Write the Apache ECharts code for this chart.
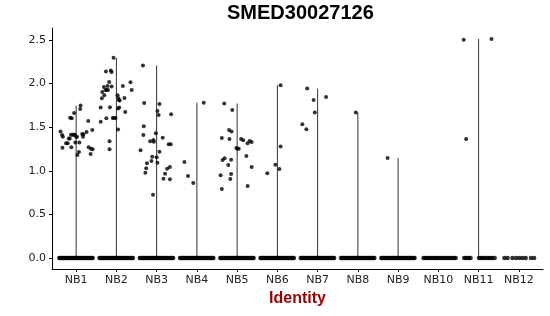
<!DOCTYPE html>
<html>
<head>
<meta charset="utf-8">
<script src="https://cdn.jsdelivr.net/npm/echarts@6/dist/echarts.min.js"></script>
<style>html,body{margin:0;padding:0;background:#fff}#c{width:550px;height:316px}</style>
</head>
<body>
<div id="c"></div>
<script>
const categories = ['NB1','NB2','NB3','NB4','NB5','NB6','NB7','NB8','NB9','NB10','NB11','NB12'];
const yTicks = [0, 0.5, 1.0, 1.5, 2.0, 2.5];

// non-zero expression points per identity: [jitter offset, value]
const nb1 = [[-0.39,1.449],[-0.35,1.411],[-0.33,1.391],[-0.34,1.265],[-0.25,1.315],[-0.21,1.315],[-0.18,1.369],[-0.16,1.369],[-0.15,1.609],[-0.11,1.602],[-0.13,1.414],[-0.12,1.269],[-0.09,1.414],[-0.06,1.414],[-0.05,1.663],[-0.03,1.414],[-0.02,1.323],[0.00,1.391],[0.02,1.391],[0.03,1.181],[0.07,1.216],[0.08,1.323],[0.10,1.709],[0.11,1.747],[0.15,1.422],[0.17,1.391],[0.18,1.418],[0.26,1.445],[0.30,1.571],[0.31,1.269],[0.36,1.193],[0.37,1.254],[0.40,1.468],[0.41,1.246]];
const nb2 = [[-0.39,1.563],[-0.39,1.724],[-0.36,1.831],[-0.35,1.904],[-0.31,1.961],[-0.30,1.865],[-0.27,1.927],[-0.26,2.137],[-0.24,1.927],[-0.22,1.972],[-0.21,1.927],[-0.25,1.602],[-0.18,2.018],[-0.17,1.338],[-0.17,1.246],[-0.16,1.728],[-0.14,2.148],[-0.12,2.133],[-0.12,1.965],[-0.09,1.606],[-0.07,2.294],[-0.06,1.606],[-0.02,1.606],[0.03,1.865],[0.04,1.472],[0.05,1.831],[0.07,1.808],[0.07,1.724],[0.08,1.804],[0.04,1.713],[0.16,1.972],[0.20,1.835],[0.22,1.674],[0.35,2.015],[0.38,1.927]];
const nb3 = [[-0.40,1.235],[-0.34,2.206],[-0.31,1.778],[-0.32,1.510],[-0.33,1.411],[-0.28,0.979],[-0.26,1.028],[-0.24,1.086],[-0.16,1.338],[-0.13,1.112],[-0.11,1.162],[-0.09,0.726],[-0.08,1.353],[-0.07,1.334],[-0.02,1.430],[0.00,1.154],[0.02,1.093],[0.02,1.686],[0.05,1.640],[0.07,1.219],[0.07,1.766],[0.15,1.380],[0.17,0.910],[0.21,0.967],[0.26,1.024],[0.30,1.304],[0.35,1.304],[0.33,1.044],[0.33,0.902],[0.36,1.648]];
const nb4 = [[-0.31,1.10],[-0.22,0.94],[-0.09,0.86],[0.17,1.78]];
const nb5 = [[-0.32,1.770],[-0.12,1.697],[-0.20,1.468],[-0.14,1.449],[-0.38,1.376],[-0.19,1.365],[0.10,1.365],[0.15,1.349],[0.26,1.315],[0.31,1.342],[0.36,1.330],[-0.02,1.262],[0.01,1.254],[0.04,1.254],[0.23,1.170],[-0.31,1.143],[-0.36,1.124],[-0.15,1.128],[-0.22,1.067],[0.36,1.044],[-0.41,0.948],[-0.15,0.963],[-0.17,0.906],[-0.38,0.791],[0.26,0.826]];
const nb6 = [[0.08,1.980],[0.08,1.277],[-0.05,1.070],[0.05,1.021],[-0.25,0.971]];
const nb7 = [[-0.26,1.942],[-0.10,1.812],[0.21,1.846],[-0.07,1.667],[-0.38,1.533],[-0.28,1.476]];
const nb8 = [[-0.05,1.667]];
const nb9 = [[-0.26,1.147]];
const nb10 = [];
const nb11 = [[-0.37,2.50],[0.32,2.51],[-0.31,1.365]];
const nb12 = [];

// jitter offsets of the zero-valued cells
const zeroDense = [-0.42,-0.40,-0.37,-0.35,-0.32,-0.30,-0.27,-0.25,-0.22,-0.19,-0.17,-0.14,-0.11,-0.09,-0.06,-0.03,-0.01,0.02,0.05,0.07,0.10,0.13,0.15,0.18,0.21,0.23,0.26,0.28,0.31,0.34,0.36,0.39,0.41];
const zeroNB10 = [-0.37,-0.33,-0.30,-0.26,-0.22,-0.19,-0.15,-0.11,-0.07,-0.04,0.00,0.04,0.08,0.12,0.16,0.20,0.24,0.28,0.32,0.36,0.40,0.43];
const zeroNB11 = [-0.36,-0.32,-0.28,-0.24,-0.20,0.01,0.05,0.09,0.13,0.17,0.22,0.26,0.30,0.34,0.40];
const zeroNB12 = [-0.36,-0.28,-0.16,-0.07,0.01,0.09,0.17,0.30,0.38];

const nonZero = [nb1,nb2,nb3,nb4,nb5,nb6,nb7,nb8,nb9,nb10,nb11,nb12];
const zeros = [zeroDense,zeroDense,zeroDense,zeroDense,zeroDense,zeroDense,zeroDense,zeroDense,zeroDense,zeroNB10,zeroNB11,zeroNB12];

const pts = [];
nonZero.forEach((arr, i) => arr.forEach(p => pts.push([i + 1 + p[0], p[1]])));
const zpts = [];
zeros.forEach((arr, i) => arr.forEach(o => zpts.push([i + 1 + o, 0])));
const violin = [];
nonZero.forEach((arr, i) => { if (arr.length) violin.push([i + 1, Math.max(...arr.map(p => p[1]))]); });

const chart = echarts.init(document.getElementById('c'), null, {renderer: 'canvas'});
const axisFont = {fontFamily: 'DejaVu Sans', fontSize: 11, color: '#222'};
chart.setOption({
  animation: false,
  backgroundColor: '#fff',
  title: {
    text: 'SMED30027126', left: 227, top: 3, padding: 0,
    textStyle: {fontFamily: 'Liberation Sans', fontWeight: 'bold', fontSize: 20, color: '#000'}
  },
  grid: {left: 52, right: 7, top: 28, bottom: 47, containLabel: false},
  xAxis: {
    type: 'value', min: 0.4, max: 12.6,
    name: 'Identity', nameLocation: 'middle', nameGap: 20,
    nameTextStyle: {fontFamily: 'Liberation Sans', fontWeight: 'bold', fontSize: 16, color: '#990000'},
    axisLine: {show: true, onZero: false, lineStyle: {color: '#000', width: 1}},
    axisTick: {show: true, length: 3, lineStyle: {color: '#000'}, customValues: [1,2,3,4,5,6,7,8,9,10,11,12]},
    axisLabel: Object.assign({margin: 6, customValues: [1,2,3,4,5,6,7,8,9,10,11,12],
      formatter: v => categories[Math.round(v) - 1]}, axisFont),
    splitLine: {show: false}
  },
  yAxis: {
    type: 'value', min: -0.125, max: 2.636,
    axisLine: {show: true, lineStyle: {color: '#000', width: 1}},
    axisTick: {show: true, length: 3, lineStyle: {color: '#000'}, customValues: yTicks},
    axisLabel: Object.assign({margin: 6, customValues: yTicks, formatter: v => v.toFixed(1)}, axisFont),
    splitLine: {show: false}
  },
  series: [
    {
      type: 'custom', data: violin, z: 1,
      renderItem: (params, api) => {
        const a = api.coord([api.value(0), 0]);
        const b = api.coord([api.value(0), api.value(1)]);
        return {type: 'line', shape: {x1: a[0], y1: a[1], x2: b[0], y2: b[1]},
                style: {stroke: '#333', lineWidth: 1}};
      }
    },
    {type: 'scatter', data: zpts, symbolSize: 4.5, itemStyle: {color: '#000'}, z: 2},
    {type: 'scatter', data: pts, symbolSize: 4, itemStyle: {color: '#000'}, z: 3}
  ]
});
</script>
</body>
</html>
